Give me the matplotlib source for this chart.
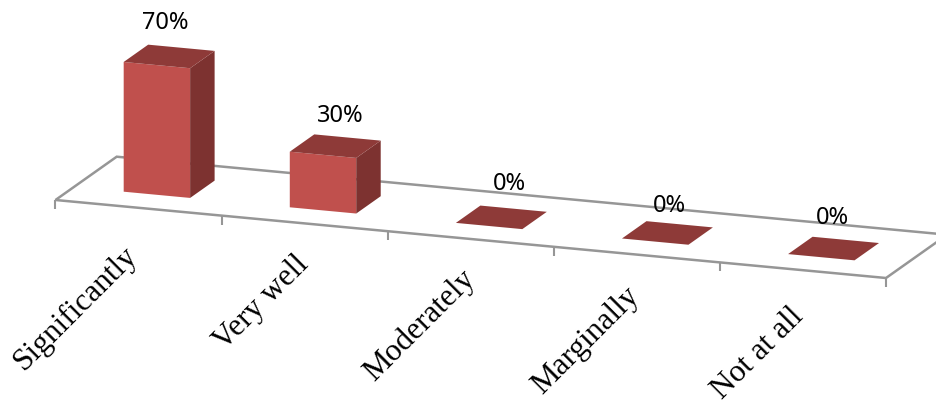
import matplotlib
matplotlib.use('Agg')
import matplotlib.pyplot as plt
from matplotlib.patches import Polygon

categories = ['Significantly', 'Very well', 'Moderately', 'Marginally', 'Not at all']
values = [70, 30, 0, 0, 0]
value_labels = ['70%', '30%', '0%', '0%', '0%']

# tweaks of the data labels, in pixels (they were moved by hand in the original)
label_dx = [-3.5, 4.7, 7.6, 1.5, -1.6]
label_dy = [-33.7, -30, -33, -27, -31]
cat_dx = [-5, 0, 0, -2, -4]
cat_dy = [43, 37, 36, 37, 42]

FRONT = '#C0504D'
TOP = '#8E3A38'
SIDE = '#7D3230'
GREY = '#969696'

# oblique projection of the chart box, in pixels of the picture
ORIGIN = (55.5, 200.0)
CAT_STEP = (166.1, 15.6)
DEPTH_STEP = (61.2, -43.3)
PX_PER_PCT = 1.853
GAP = 0.3  # bar starts this far inside its category, both ways


def project(cat, depth, value=0):
    x = ORIGIN[0] + cat * CAT_STEP[0] + depth * DEPTH_STEP[0]
    y = ORIGIN[1] + cat * CAT_STEP[1] + depth * DEPTH_STEP[1] - value * PX_PER_PCT
    return x, y


fig = plt.figure(figsize=(9.37, 4.04), dpi=100)
ax = fig.add_axes([0, 0, 1, 1])
ax.set_xlim(0, 937)
ax.set_ylim(404, 0)
ax.axis('off')

n = len(categories)

# floor
floor = [project(0, 0), project(n, 0), project(n, 1), project(0, 1)]
ax.add_patch(Polygon(floor, closed=True, facecolor='white', edgecolor=GREY,
                     linewidth=1.8, joinstyle='miter', zorder=1))

# ticks on the front edge
for i in range(n + 1):
    x, y = project(i, 0)
    ax.plot([x, x], [y, y + 9], color=GREY, linewidth=1.5,
            solid_capstyle='butt', zorder=1)

# bars
for i, v in enumerate(values):
    c0, c1 = i + GAP, i + 1 - GAP
    d0, d1 = GAP, 1 - GAP
    front = [project(c0, d0), project(c1, d0), project(c1, d0, v), project(c0, d0, v)]
    side = [project(c1, d0), project(c1, d1), project(c1, d1, v), project(c1, d0, v)]
    top = [project(c0, d0, v), project(c1, d0, v), project(c1, d1, v), project(c0, d1, v)]
    ax.add_patch(Polygon(front, closed=True, facecolor=FRONT, edgecolor='none', zorder=2))
    ax.add_patch(Polygon(side, closed=True, facecolor=SIDE, edgecolor='none', zorder=2))
    ax.add_patch(Polygon(top, closed=True, facecolor=TOP, edgecolor='none', zorder=2))

    # value label above the bar
    x, y = project(i + 0.5, 0.5, v)
    ax.text(x + label_dx[i], y + label_dy[i], value_labels[i], ha='center', va='center',
            fontsize=17, family='Noto Sans', color='black', zorder=3)

    # category label
    x, y = project(i + 0.5, 0)
    ax.text(x + cat_dx[i], y + cat_dy[i], categories[i], ha='right', va='center', rotation=45,
            rotation_mode='anchor', fontsize=22.5, family='Liberation Serif',
            color='black', zorder=3)

plt.savefig('out.png', dpi=100)
plt.close()
